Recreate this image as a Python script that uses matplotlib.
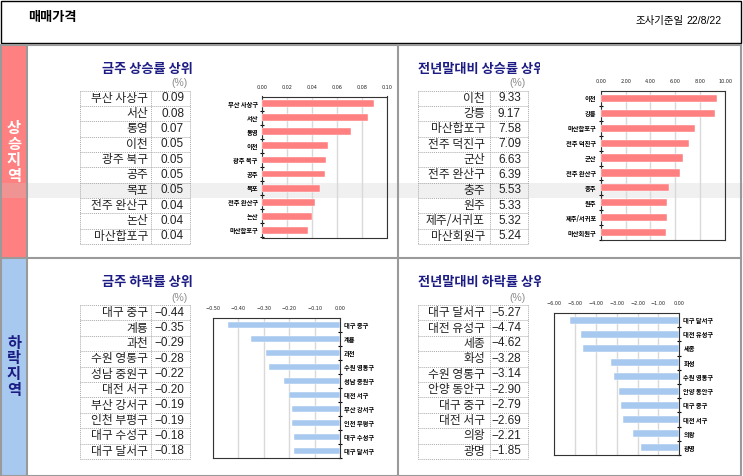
import numpy as np
import matplotlib
matplotlib.use("Agg")
import matplotlib.pyplot as plt
from matplotlib.patches import Rectangle

plt.rcParams['font.family'] = ['Noto Sans CJK KR', 'DejaVu Sans']

# ---------------- data ----------------
tl_names = ['부산 사상구', '서산', '통영', '이천', '광주 북구', '공주', '목포', '전주 완산구', '논산', '마산합포구']
tl_labels = ['0.09', '0.08', '0.07', '0.05', '0.05', '0.05', '0.05', '0.04', '0.04', '0.04']
tl_vals = [0.090, 0.085, 0.071, 0.053, 0.051, 0.050, 0.046, 0.042, 0.040, 0.037]
tl_ticks = [0.00, 0.02, 0.04, 0.06, 0.08, 0.10]

tr_names = ['이천', '강릉', '마산합포구', '전주 덕진구', '군산', '전주 완산구', '충주', '원주', '제주/서귀포', '마산회원구']
tr_vals = [9.33, 9.17, 7.58, 7.09, 6.63, 6.39, 5.53, 5.33, 5.32, 5.24]
tr_ticks = [0.0, 2.0, 4.0, 6.0, 8.0, 10.0]

bl_names = ['대구 중구', '계룡', '과천', '수원 영통구', '성남 중원구', '대전 서구', '부산 강서구', '인천 부평구', '대구 수성구', '대구 달서구']
bl_vals = [-0.44, -0.35, -0.29, -0.28, -0.22, -0.20, -0.19, -0.19, -0.18, -0.18]
bl_ticks = [-0.5, -0.4, -0.3, -0.2, -0.1, 0.0]

br_names = ['대구 달서구', '대전 유성구', '세종', '화성', '수원 영통구', '안양 동안구', '대구 중구', '대전 서구', '의왕', '광명']
br_vals = [-5.27, -4.74, -4.62, -3.28, -3.14, -2.90, -2.79, -2.69, -2.21, -1.85]
br_ticks = [-6.0, -5.0, -4.0, -3.0, -2.0, -1.0, 0.0]

# ---------------- layout ----------------
W, H = 743, 476
fig = plt.figure(figsize=(W / 100, H / 100), dpi=100)

def rect(x0, y0, x1, y1):
    return [x0 / W, 1 - y1 / H, (x1 - x0) / W, (y1 - y0) / H]

NAVY = '#1c1c84'
RED = '#ff8080'
BLUE = '#a8c9ef'
GRAY = '#9a9a9a'
NUMF = ['Liberation Sans Narrow', 'Liberation Sans', 'DejaVu Sans']

def fmt(v):
    s = f'{v:.2f}'
    if s == '-0.00':
        s = '0.00'
    return s.replace('-', '−')

bg = fig.add_axes([0, 0, 1, 1])
bg.set_xlim(0, W)
bg.set_ylim(H, 0)
bg.axis('off')

# header
bg.add_patch(Rectangle((1, 0.5), 740, 42, fill=False, ec='black', lw=1))
bg.text(28, 17.5, '매매가격', fontsize=9.5, fontweight='bold', va='center', ha='left')
bg.text(636, 21, '조사기준일', fontsize=7.5, va='center', ha='left')
bg.text(722, 21, '22/8/22', fontsize=7.5, va='center', ha='right', family=NUMF)

# main frame
bg.add_patch(Rectangle((2, 45), 24.5, 213, fc=RED, ec='none', zorder=1))
bg.add_patch(Rectangle((2, 259), 24.5, 216, fc=BLUE, ec='none', zorder=1))
# highlighted row band (under text)
bg.add_patch(Rectangle((0, 183.3), W, 14.4, fc='#c8c8c8', alpha=0.27, lw=0, zorder=1.5))
bg.add_patch(Rectangle((1, 44.5), 740, 431, fill=False, ec=GRAY, lw=1.5, zorder=2))
bg.plot([27, 27], [44.5, 476], color=GRAY, lw=1.5, zorder=2)
bg.plot([1, 741], [258.3, 258.3], color=GRAY, lw=1.5, zorder=2)
bg.plot([397.5, 397.5], [44.5, 476], color=GRAY, lw=1.5, zorder=2)

for ch, yy in zip('상승지역', [128.3, 144.3, 160, 175.7]):
    bg.text(14, yy, ch, color='white', fontsize=11, fontweight='bold', ha='center', va='center')
for ch, yy in zip('하락지역', [343.3, 358.3, 374.3, 390]):
    bg.text(14, yy, ch, color=NAVY, fontsize=11, fontweight='bold', ha='center', va='center')

# titles
bg.text(102, 68.5, '금주 상승률 상위', color=NAVY, fontsize=9.5, fontweight='bold', va='center', ha='left')
bg.text(102, 281.7, '금주 하락률 상위', color=NAVY, fontsize=9.5, fontweight='bold', va='center', ha='left')
for (x0, y0, x1, y1), t in [((418, 56, 540, 82), '전년말대비 상승률 상위'),
                            ((418, 269, 541, 295), '전년말대비 하락률 상위')]:
    tax = fig.add_axes(rect(x0, y0, x1, y1))
    tax.axis('off')
    tax.text(0, 0.5, t, color=NAVY, fontsize=9.5, fontweight='bold', va='center', ha='left',
             transform=tax.transAxes, clip_on=True)

for x, y in [(179.5, 83.5), (517, 83.5), (179.5, 297.7), (517, 297.7)]:
    bg.text(x, y, '(%)', color='#8c8c8c', fontsize=7.5, ha='center', va='center', family=NUMF)

# tables
def draw_table(x0, xs, x1, ytop, ybot, names, labels, name_pad, val_pad):
    n = len(names)
    rh = (ybot - ytop) / n
    ls = (0, (1, 1))
    for i in range(n + 1):
        yy = ytop + i * rh
        bg.plot([x0, x1], [yy, yy], color='#aaaaaa', lw=0.7, ls=ls)
    for xx in (x0, xs, x1):
        bg.plot([xx, xx], [ytop, ybot], color='#aaaaaa', lw=0.7, ls=ls)
    for i, (nm, lb) in enumerate(zip(names, labels)):
        yc = ytop + (i + 0.5) * rh
        bg.text(xs - name_pad, yc, nm, fontsize=8.5, ha='right', va='center', color='#222222')
        bg.text(x1 - val_pad, yc, lb, fontsize=8.5, ha='right', va='center', color='#222222', family=NUMF)

draw_table(80, 151, 190, 90.5, 244, tl_names, tl_labels, 3, 6)
draw_table(418, 489.5, 528, 90.5, 244, tr_names, [f'{v:.2f}' for v in tr_vals], 4.5, 7)
draw_table(80, 151, 190, 305, 459, bl_names, [fmt(v) for v in bl_vals], 3, 6)
draw_table(418, 489.5, 528, 305, 459, br_names, [fmt(v) for v in br_vals], 4.5, 7)

# charts
def chart(px, names, vals, ticks, color, side):
    ax = fig.add_axes(rect(*px))
    ax.set_facecolor('none')
    n = len(names)
    y = np.arange(n)
    ax.barh(y, vals, height=0.48, color=color, edgecolor='white', lw=0.3, zorder=3)
    ax.set_ylim(n - 0.5, -0.5)
    ax.set_xlim(min(ticks), max(ticks))
    ax.set_xticks(ticks)
    ax.set_xticklabels([fmt(t) for t in ticks], fontsize=3.5, family=['DejaVu Sans'])
    ax.xaxis.tick_top()
    ax.tick_params(axis='x', length=0, pad=5, colors='#222222')
    ax.grid(axis='x', color='#d9d9d9', lw=1, zorder=0)
    ax.set_axisbelow(True)
    ax.set_yticks(y)
    ax.set_yticklabels(names, fontsize=4.5, fontweight='bold')
    ax.set_yticks(y + 0.5, minor=True)
    if side == 'right':
        ax.yaxis.tick_right()
    ax.tick_params(axis='y', which='major', length=0, pad=3)
    ax.tick_params(axis='y', which='minor', length=2.5, width=0.8, direction='inout')
    for s in ax.spines.values():
        s.set_color('#333333')
        s.set_linewidth(0.8)
    return ax

chart((262, 96.5, 387, 237.5), tl_names, tl_vals, tl_ticks, RED, 'left')
chart((600.7, 91, 725, 240), tr_names, tr_vals, tr_ticks, RED, 'left')
chart((212.7, 318, 340, 458), bl_names, bl_vals, bl_ticks, BLUE, 'right')
chart((554.3, 313, 679.3, 455), br_names, br_vals, br_ticks, BLUE, 'right')

fig.savefig('out.png', dpi=100)
